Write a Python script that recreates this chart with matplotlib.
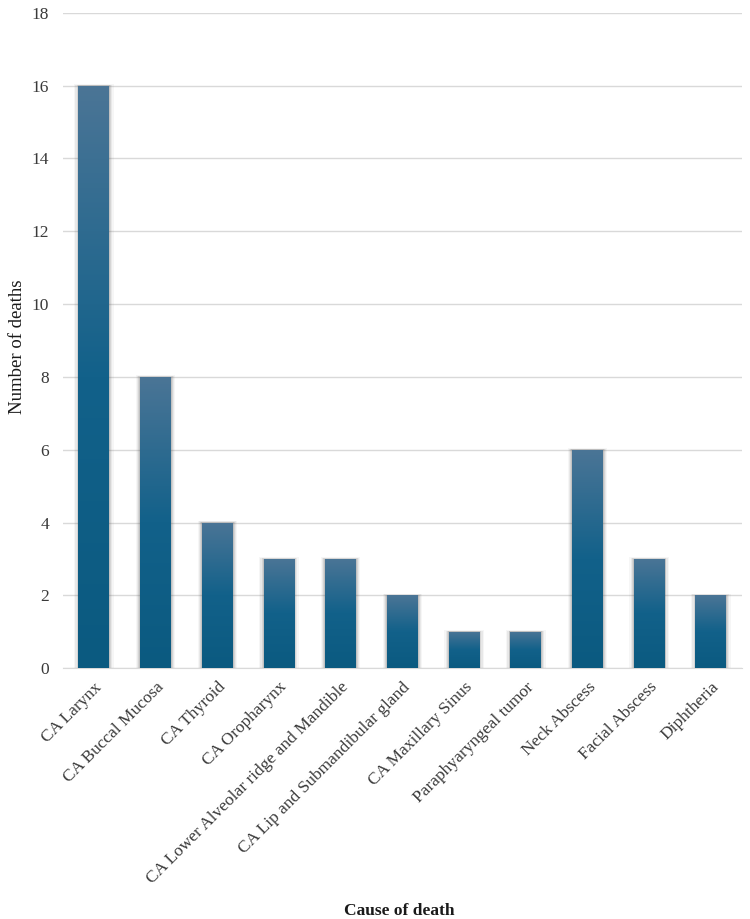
import numpy as np
import matplotlib.pyplot as plt
from matplotlib.colors import LinearSegmentedColormap
from matplotlib.patches import Rectangle

causes = ['CA Larynx', 'CA Buccal Mucosa', 'CA Thyroid', 'CA Oropharynx',
          'CA Lower Alveolar ridge and Mandible', 'CA Lip and Submandibular gland',
          'CA Maxillary Sinus', 'Paraphyaryngeal tumor', 'Neck Abscess',
          'Facial Abscess', 'Diphtheria']
deaths = [16, 8, 4, 3, 3, 2, 1, 1, 6, 3, 2]
yticks = [0, 2, 4, 6, 8, 10, 12, 14, 16, 18]

plt.rcParams['font.family'] = ['Liberation Serif', 'DejaVu Serif']

fig = plt.figure(figsize=(7.5, 9.19), dpi=100)
ax = fig.add_axes([0.084, 0.273, 0.905, 0.713])

x = np.arange(len(causes))
width = 0.5

# gradient from lighter top to dark bottom
cmap = LinearSegmentedColormap.from_list(
    'bar', [(0.0, '#0b5a80'), (0.5, '#12618a'), (1.0, '#4b7596')])
grad = np.linspace(0, 1, 256).reshape(-1, 1)

for xi, h in zip(x, deaths):
    # soft shadow on the sides
    for k, a in [(0.07, 0.05), (0.05, 0.08), (0.03, 0.12), (0.015, 0.15)]:
        ax.add_patch(Rectangle((xi - width / 2 - k, 0), width + 2 * k, h + k * 0.6,
                               facecolor='#505050', edgecolor='none', alpha=a, zorder=2))
    bar = ax.bar(xi, h, width=width, color='none', zorder=3)[0]
    im = ax.imshow(grad, cmap=cmap, origin='lower', aspect='auto',
                   extent=(xi - width / 2, xi + width / 2, 0, h), zorder=3)
    im.set_clip_path(bar)

ax.set_xlim(-0.5, len(causes) - 0.5)
ax.set_ylim(0, 18)
ax.set_yticks(yticks)
ax.yaxis.grid(True, color='#d9d9d9', linewidth=1)
ax.set_axisbelow(True)
for s in ['top', 'right', 'left']:
    ax.spines[s].set_visible(False)
ax.spines['bottom'].set_color('#d9d9d9')
ax.tick_params(axis='both', length=0, labelsize=12.5, colors='#3a3a3a', pad=8)
ax.tick_params(axis='y', pad=10)

ax.set_xticks(x)
ax.set_xticklabels(causes, rotation=45, ha='right', rotation_mode='anchor')
ax.set_ylabel('Number of deaths', fontsize=13.5, color='#1a1a1a')
ax.yaxis.set_label_coords(-0.055, 0.49)
fig.text(0.532, 0.0, 'Cause of death', ha='center', va='bottom', fontsize=12.5,
         fontweight='bold', color='#1a1a1a')

fig.savefig('out.png', dpi=100)
